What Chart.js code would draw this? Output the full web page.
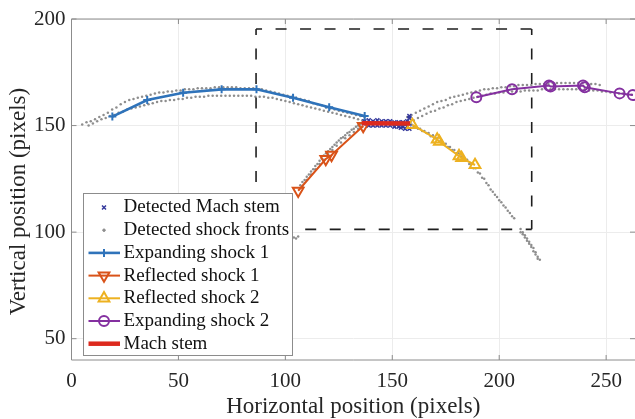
<!DOCTYPE html>
<html>
<head>
<meta charset="utf-8">
<script src="https://cdn.jsdelivr.net/npm/chart.js@4.4.1/dist/chart.umd.min.js"></script>
<style>
  html, body { margin: 0; padding: 0; background: #fff; }
  #wrap { width: 635px; height: 419px; }
</style>
</head>
<body>
<div id="wrap"><canvas id="shock_chart" width="635" height="419"></canvas></div>
<script>
// tick labels
const xTicks = [0, 50, 100, 150, 200, 250];
const yTicks = [50, 100, 150, 200];

// fitted shock lines (x, y in image pixels)
const exp1X = [19.1, 35.4, 52.2, 70.2, 86.5, 103.6, 120.5, 137.1];
const exp1Y = [154.2, 162.0, 165.4, 167.0, 167.0, 163.1, 158.6, 154.5];

const ref1X = [106.0, 118.9, 121.6, 136.4];
const ref1Y = [119.4, 134.3, 136.2, 149.8];

const ref2X = [159.4, 171.0, 172.0, 181.2, 182.4, 188.7];
const ref2Y = [150.3, 143.5, 142.4, 135.7, 134.8, 131.5];

const exp2X = [189.3, 206.0, 223.3, 224.0, 239.2, 240.0, 256.3, 262.5];
const exp2Y = [163.3, 167.0, 168.8, 168.3, 168.8, 168.0, 165.1, 164.3];

const machX = [135.7, 158.3];
const machY = [151.1, 151.0];

// zoom window (dashed box)
const boxX = [86.3, 215.2];
const boxY = [101.3, 195.3];

// detected Mach stem pixels
const machPix = [
  [137,152],[139,152.5],[141,152],[143,152.5],[145,152],[147,152],[149,152],[151,151.5],[153,151.5],[155,151.5],[157,152],
  [138,151],[140,151],[142,151],[144,151],[146,151],[148,151],[150,151],[152,150.5],[154,150.5],[156,150.5],[158,151],
  [139,150],[141,150],[143,150],[145,150],[147,150],[149,150],[151,149.5],[153,149.5],[155,149.5],[157,149.5],
  [154,149],[156,148.5],[158,148.5],[158,153.5],[158,154.5]
];

// detected shock front pixels, one list per branch
const frontsExp1 = [
  [5,150.5],[7,151.5],[9,152],[11,153],[13,154],[15,155],[17,156],[19,157.5],[21,158.5],[23,160],[25,161],[27,162],[29,162.5],
  [31,163],[33,163.5],[35,164],[37,164.5],[39,165],[41,165.5],[43,165.5],[45,166],[47,166],[49,166.5],[51,166.5],[53,167],
  [55,167],[57,167],[59,167.5],[61,167.5],[63,167.5],[65,167.5],[67,168],[69,168],[71,168],[73,168],[75,168],[77,168],
  [79,167.5],[81,167.5],[83,167.5],[85,167.5],[87,167],[89,167],[91,166.5],[93,166],[95,165.5],[97,165],[99,164.5],[101,164],
  [103,163.5],[105,163],[107,162.5],[109,162],[111,161.5],[113,160.5],[115,160],[117,159.5],[119,158.5],[121,158],[123,157.5],
  [125,157],[127,156.5],[129,156],[131,155.5],[133,155],[135,154.5],[137,154],
  [8,150],[10,151],[12,152],[14,153],[16,153.5],[18,154.5],[20,155],[22,156],[24,156.5],[26,157.5],[28,158],[30,158.5],
  [32,159],[34,159.5],[36,160],[38,160.5],[40,161],[42,161.5],[44,161.5],[46,162],[48,162],[50,162.5],[52,162.5],[54,163],
  [56,163],[58,163.5],[60,163.5],[62,163.5],[64,164],[66,164],[68,164],[70,164],[72,164],[74,164],[76,164],[78,164],[80,164],
  [82,164],[84,164],[86,163.5],[88,163.5],[90,163.5],[92,163],[94,163],[96,162.5],[98,162],[100,161.5],[102,161],[104,160.5],
  [106,160],[108,159.5],[110,159],[112,158.5],[114,158],[116,157.5],[118,157],[120,156.5],[122,156],[124,155.5],[126,155],
  [128,154.5],[130,154],[132,153.5],[134,153],[136,152.5]
];
const frontsRef1 = [
  [103,96.5],[104,97.5],[105,97],[106,98],
  [107,122],[108,123.5],[109,124.5],[110,126],[111,127],[112,128.5],[113,129.5],[114,131],[115,132],[116,133.5],[117,134.5],
  [118,136],[119,137],[120,138],[121,139],[122,140],[123,141],[124,142],[125,143],[126,144],[127,144.5],[128,145.5],
  [129,146.5],[130,147],[131,148],[132,148.5],[133,149.5],[134,150],[135,150.5],[136,151],
  [108,121.5],[110,124.5],[112,127],[114,129.5],[116,132],[118,134],[120,136.5],[122,138.5],[124,140.5],[126,142],
  [128,144],[130,145.5],[132,147],[134,148.5],[136,149.5]
];
const frontsExp2 = [
  [157,154],[159,155],[161,156],[163,157],[165,158],[167,159],[169,160],[171,161],[173,161.5],[175,162],[177,163],[179,163.5],
  [181,164],[183,164.5],[185,165],[187,165.5],[189,166],[191,166.5],[193,167],[195,167],[197,167.5],[199,167.5],[201,168],
  [203,168],[205,168.5],[207,168.5],[209,169],[211,169],[213,169],[215,169],[217,169.5],[219,169.5],[221,169.5],[223,169.5],
  [225,170],[227,170],[229,170],[231,170],[233,170],[235,170],[237,170],[239,170],[241,169.5],[243,169.5],[245,169.5],[247,169],
  [158,151.5],[160,152.5],[162,153.5],[164,154.5],[166,155.5],[168,156.5],[170,157],[172,158],[174,158.5],[176,159.5],
  [178,160],[180,161],[182,161.5],[184,162],[186,162.5],[188,163],[190,163.5],[192,164],[194,164.5],[196,165],[198,165],
  [200,165.5],[202,165.5],[204,166],[206,166],[208,166],[210,166],[212,166.5],[214,166.5],[216,166.5],[218,166.5],[220,167],
  [222,167],[224,167],[226,167],[228,167],[230,167],[232,167],[234,167],[236,167],[238,167],[240,167],[242,166.5],[244,166.5],
  [246,166.5],[248,166],[250,166],[252,165.5],[254,165.5],[256,165],[258,165],[260,164.5],[262,164.5]
];
const frontsRef2 = [
  [159,150.5],[161,149.5],[163,148.5],[165,147.5],[167,146.5],[169,145.5],[171,144],[173,143],[175,141.5],[177,140],
  [179,138.5],[181,137],[183,135.5],[185,134],[187,132],[189,130],[191,127.5],[193,125],[195,122],[197,119],[199,116.5],
  [201,114],[203,111.5],[205,109],[207,106.5],
  [160,149.5],[162,148.5],[164,147.5],[166,146.5],[168,145],[170,144],[172,142.5],[174,141.5],[176,140],[178,138.5],
  [180,137],[182,135.5],[184,134],[186,132],[188,130],[190,128],[192,125.5],[194,123],[196,120],[198,117.5],[200,115],
  [202,112.5],[204,110],[206,107.5],
  [210,101.5],[211,100],[212,98.5],[213,97],[214,95.5],[215,94],[216,92.5],[217,90.5],[218,88.5],
  [210,100],[211,99],[212,97.5],[213,96],[214,94.5],[215,93],[216,91],[217,89.5],[218,87.5],[219,87]
];

const SERIF = '"Liberation Serif", "Times New Roman", serif';
const BLUE = '#2f73ba';
const ORANGE = '#d95319';
const YELLOW = '#edb120';
const PURPLE = '#8430a0';
const RED = '#dd2a1e';
const NAVY = '#35399c';
const GREY = '#8e8e8e';
const CLEAR = 'rgba(0,0,0,0)';

function toPoints(xs, ys) {
  return xs.map((x, i) => ({ x: x, y: ys[i] }));
}
function fromPairs(list) {
  return list.map(p => ({ x: p[0], y: p[1] }));
}

// dashed box: every side starts at a corner
function boxPoints() {
  const gap = { x: null, y: null };
  return [
    { x: boxX[0], y: boxY[1] }, { x: boxX[0], y: boxY[0] }, gap,
    { x: boxX[0], y: boxY[1] }, { x: boxX[1], y: boxY[1] }, gap,
    { x: boxX[1], y: boxY[1] }, { x: boxX[1], y: boxY[0] }, gap,
    { x: boxX[1], y: boxY[0] }, { x: boxX[0], y: boxY[0] }
  ];
}

function shockLine(label, xs, ys, color, width, style, radius, rotation, order) {
  return {
    label: label,
    data: toPoints(xs, ys),
    showLine: true,
    borderColor: color,
    borderWidth: width,
    pointStyle: style,
    pointRadius: radius,
    pointRotation: rotation,
    pointBorderColor: color,
    pointBackgroundColor: CLEAR,
    pointBorderWidth: 2,
    order: order
  };
}

const datasets = [
  {
    label: 'Detected Mach stem',
    data: fromPairs(machPix),
    pointStyle: 'crossRot', pointRadius: 2.8, pointBorderWidth: 1.5,
    pointBorderColor: NAVY, borderColor: NAVY, pointBackgroundColor: NAVY,
    order: 7
  },
  {
    label: 'Detected shock fronts',
    data: fromPairs(frontsExp1.concat(frontsRef1, frontsExp2, frontsRef2)),
    pointStyle: 'circle', pointRadius: 1.25, pointBorderWidth: 0,
    pointBackgroundColor: GREY, borderColor: GREY,
    order: 8
  },
  shockLine('Expanding shock 1', exp1X, exp1Y, BLUE, 2.6, 'cross', 4, 0, 6),
  shockLine('Reflected shock 1', ref1X, ref1Y, ORANGE, 2, 'triangle', 6.2, 180, 5),
  shockLine('Reflected shock 2', ref2X, ref2Y, YELLOW, 2, 'triangle', 6.2, 0, 4),
  shockLine('Expanding shock 2', exp2X, exp2Y, PURPLE, 2, 'circle', 5, 0, 3),
  {
    label: 'Mach stem',
    data: toPoints(machX, machY),
    showLine: true, borderColor: RED, borderWidth: 4.5, pointRadius: 0,
    order: 2
  },
  {
    label: '',
    data: boxPoints(),
    showLine: true, spanGaps: false,
    borderColor: '#1e1e1e', borderWidth: 1.6,
    borderDash: [11, 13.5], borderDashOffset: 5,
    pointRadius: 0,
    order: 1
  }
];

// legend marker, same shapes as the chart points
function drawMark(ctx, ds, x, y) {
  const r = ds.pointRadius || 0;
  if (!r) return;
  ctx.save();
  ctx.translate(x, y);
  ctx.rotate((ds.pointRotation || 0) * Math.PI / 180);
  ctx.strokeStyle = ds.pointBorderColor || ds.borderColor;
  ctx.fillStyle = ds.pointBackgroundColor || CLEAR;
  ctx.lineWidth = ds.pointBorderWidth || 0;
  ctx.beginPath();
  if (ds.pointStyle === 'cross') {
    ctx.moveTo(-r, 0); ctx.lineTo(r, 0);
    ctx.moveTo(0, -r); ctx.lineTo(0, r);
  } else if (ds.pointStyle === 'crossRot') {
    const d = r * Math.SQRT1_2;
    ctx.moveTo(-d, -d); ctx.lineTo(d, d);
    ctx.moveTo(-d, d); ctx.lineTo(d, -d);
  } else if (ds.pointStyle === 'triangle') {
    for (let k = 0; k < 3; k++) {
      const t = k * 2 * Math.PI / 3;
      if (k == 0) ctx.moveTo(Math.sin(t) * r, -Math.cos(t) * r);
      else ctx.lineTo(Math.sin(t) * r, -Math.cos(t) * r);
    }
    ctx.closePath();
  } else {
    ctx.arc(0, 0, r, 0, 2 * Math.PI);
  }
  ctx.fill();
  if (ctx.lineWidth > 0) ctx.stroke();
  ctx.restore();
}

function drawLegend(chart) {
  const ctx = chart.ctx;
  const left = 83.5, top = 193.5, w = 209, h = 162, row = 22.7;
  ctx.fillStyle = '#fff';
  ctx.fillRect(left, top, w, h);
  ctx.strokeStyle = '#8c8c8c';
  ctx.lineWidth = 1;
  ctx.strokeRect(left, top, w, h);

  ctx.font = '19px ' + SERIF;
  ctx.textBaseline = 'middle';
  ctx.textAlign = 'left';
  chart.data.datasets.filter(d => d.label).forEach((ds, i) => {
    const y = top + 14 + i * row;
    if (ds.showLine) {
      ctx.strokeStyle = ds.borderColor;
      ctx.lineWidth = ds.borderWidth;
      ctx.beginPath();
      ctx.moveTo(88.5, y);
      ctx.lineTo(120, y);
      ctx.stroke();
    }
    drawMark(ctx, ds, 104, y);
    ctx.fillStyle = '#111';
    ctx.fillText(ds.label, 123.5, y);
  });
}

// axes box, inward ticks, legend and axis titles
const axesFrame = {
  id: 'axesFrame',
  afterDraw(chart) {
    const ctx = chart.ctx;
    const a = chart.chartArea;
    const sx = chart.scales.x, sy = chart.scales.y;
    ctx.save();
    ctx.strokeStyle = '#8c8c8c';
    ctx.lineWidth = 1;
    ctx.beginPath();
    ctx.moveTo(a.right, a.top); ctx.lineTo(a.left, a.top);
    ctx.lineTo(a.left, a.bottom); ctx.lineTo(a.right, a.bottom);
    xTicks.forEach(v => {
      const p = sx.getPixelForValue(v);
      ctx.moveTo(p, a.bottom); ctx.lineTo(p, a.bottom - 5);
      ctx.moveTo(p, a.top); ctx.lineTo(p, a.top + 5);
    });
    yTicks.forEach(v => {
      const p = sy.getPixelForValue(v);
      ctx.moveTo(a.left, p); ctx.lineTo(a.left + 5, p);
      ctx.moveTo(a.right, p); ctx.lineTo(a.right - 5, p);
    });
    ctx.stroke();

    drawLegend(chart);

    ctx.fillStyle = '#262626';
    ctx.font = '23px ' + SERIF;
    ctx.textAlign = 'center';
    ctx.textBaseline = 'middle';
    ctx.fillText('Horizontal position (pixels)', (a.left + a.right) / 2, 407);
    ctx.translate(19, (a.top + a.bottom) / 2 + 12);
    ctx.rotate(-Math.PI / 2);
    ctx.fillText('Vertical position (pixels)', 0, 0);
    ctx.restore();
  }
};

const tickFont = { family: SERIF, size: 21 };

new Chart(document.getElementById('shock_chart').getContext('2d'), {
  type: 'scatter',
  data: { datasets: datasets },
  plugins: [axesFrame],
  options: {
    responsive: false,
    devicePixelRatio: 1,
    animation: false,
    events: [],
    layout: { autoPadding: false, padding: { top: 19, right: 0, left: 0, bottom: 0 } },
    plugins: { legend: { display: false }, tooltip: { enabled: false } },
    scales: {
      x: {
        type: 'linear', min: 0, max: 263.5,
        afterBuildTicks: s => { s.ticks = xTicks.map(v => ({ value: v })); },
        afterFit: s => { s.height = 59; s.paddingLeft = 0; s.paddingRight = 0; },
        grid: { color: '#ececec', drawTicks: false },
        border: { display: false },
        ticks: { font: tickFont, color: '#262626', padding: 9 }
      },
      y: {
        type: 'linear', min: 40, max: 200,
        afterBuildTicks: s => { s.ticks = yTicks.map(v => ({ value: v })); },
        afterFit: s => { s.width = 71.5; s.paddingTop = 0; s.paddingBottom = 0; },
        grid: { color: '#ececec', drawTicks: false },
        border: { display: false },
        ticks: { font: tickFont, color: '#262626', padding: 6 }
      }
    }
  }
});
</script>
</body>
</html>
